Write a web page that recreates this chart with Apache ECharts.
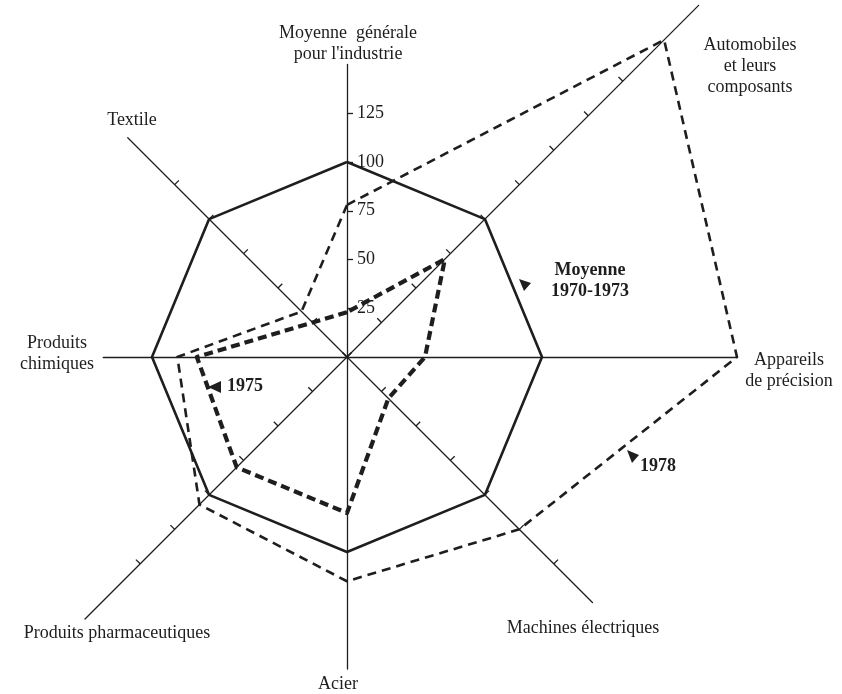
<!DOCTYPE html>
<html><head><meta charset="utf-8">
<script src="https://cdn.jsdelivr.net/npm/echarts@6/dist/echarts.min.js"></script>
<style>html,body{margin:0;padding:0;background:#fff}#c{width:842px;height:694px}</style>
</head><body><div id="c"></div>
<script>
// Indicators, counter-clockwise from the top
const categories = ["Moyenne générale pour l'industrie", 'Textile', 'Produits chimiques', 'Produits pharmaceutiques', 'Acier', 'Machines électriques', 'Appareils de précision', 'Automobiles et leurs composants'];
const avg7073 = [100, 100, 100, 100, 100, 100, 100, 100];
const y1975 = [23, 25, 77, 80, 80, 30, 40, 71];
const y1978 = [78, 33, 87, 107, 115, 125, 200, 230];
// drawn length of each axis and the last tick on it (0 = no ticks), in index units
const axisLength = [150, 159, 125, 190, 160, 178, 200, 255];
const tickMax = [125, 125, 0, 150, 0, 150, 0, 200];
const tickSide = [-1, -1, 1, -1, 1, 1, 1, 1]; // -1 = clockwise side of the axis
const tickStep = 25;

const CX = 347, CY = 357, PX = 1.95;
const FONT = 'Liberation Serif';
const INK = '#1e1e1e';

const radars = [];
axisLength.forEach((L, i) => {
  radars.push({
    center: [CX, CY], radius: L * PX, startAngle: 90, shape: 'polygon', splitNumber: 1,
    axisName: { show: false }, splitLine: { show: false }, splitArea: { show: false },
    axisTick: { show: false }, axisLabel: { show: false }, axisLine: { show: false },
    indicator: categories.map((c, j) => ({
      name: c, min: 0, max: L,
      axisLine: { show: j === i, lineStyle: { color: INK, width: 1.3 } }
    }))
  });
});
tickMax.forEach((T, i) => {
  if (!T) return;
  radars.push({
    center: [CX, CY], radius: T * PX, startAngle: 90, shape: 'polygon', splitNumber: T / tickStep,
    axisName: { show: false }, splitLine: { show: false }, splitArea: { show: false },
    axisTick: { show: false }, axisLabel: { show: false }, axisLine: { show: false },
    indicator: categories.map((c, j) => ({
      name: c, min: 0, max: T,
      axisTick: { show: j === i, length: 6 * tickSide[i], lineStyle: { color: INK, width: 1.3 } },
      axisLabel: { show: j === i && i === 0, showMinLabel: false, color: INK, fontFamily: FONT, fontSize: 18, margin: -10, align: 'left' }
    }))
  });
});

function txt(lines, x, y, align, opts) {
  return lines.map((t, k) => ({
    type: 'text', x: x, y: y + k * 21,
    style: { text: t, font: (opts && opts.bold ? 'bold ' : '') + '18px "' + FONT + '"', fill: INK, align: align, verticalAlign: 'middle' }
  }));
}
const graphics = [].concat(
  txt(['Moyenne  générale', "pour l'industrie"], 348, 33, 'center'),
  txt(['Automobiles', 'et leurs', 'composants'], 750, 45, 'center'),
  txt(['Appareils', 'de précision'], 789, 360, 'center'),
  txt(['Machines électriques'], 583, 628, 'center'),
  txt(['Acier'], 338, 684, 'center'),
  txt(['Produits pharmaceutiques'], 117, 633, 'center'),
  txt(['Produits', 'chimiques'], 57, 343, 'center'),
  txt(['Textile'], 132, 120, 'center'),
  txt(['Moyenne', '1970-1973'], 590, 270, 'center', { bold: true }),
  txt(['1975'], 227, 386, 'left', { bold: true }),
  txt(['1978'], 640, 466, 'left', { bold: true }),
  [
    { type: 'polygon', shape: { points: [[519, 279], [531, 283], [524, 291]] }, style: { fill: INK } },
    { type: 'polygon', shape: { points: [[208, 387], [221, 381], [221, 393]] }, style: { fill: INK } },
    { type: 'polygon', shape: { points: [[627, 450], [639, 455], [632, 463]] }, style: { fill: INK } }
  ]
);

const chart = echarts.init(document.getElementById('c'), null, { renderer: 'canvas' });
chart.setOption({
  backgroundColor: '#fff',
  animation: false,
  radar: radars,
  series: [{
    type: 'radar', radarIndex: 0, symbol: 'none',
    data: [
      { name: 'Moyenne 1970-1973', value: avg7073, lineStyle: { color: INK, width: 2.6, type: 'solid' } },
      { name: '1975', value: y1975, lineStyle: { color: INK, width: 4.2, type: [9, 5] } },
      { name: '1978', value: y1978, lineStyle: { color: INK, width: 2.6, type: [9, 6] } }
    ]
  }],
  graphic: graphics
});
</script></body></html>
